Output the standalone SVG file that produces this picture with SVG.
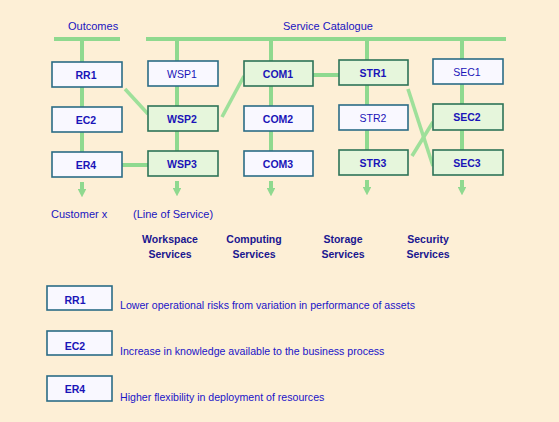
<svg xmlns="http://www.w3.org/2000/svg" width="559" height="422" viewBox="0 0 559 422">
<style>
.ln{stroke:#8fd98f;stroke-width:4;fill:none;stroke-linecap:butt}
.dg{stroke:#9ee09a;stroke-width:3.6;fill:none}
.ar{stroke:#8fd98f;stroke-width:4;fill:none}
.bw{fill:#f9f8ff;stroke:#2b6c86;stroke-width:1.6}
.bg{fill:#e6f6dc;stroke:#2d7458;stroke-width:1.6}
.lb{font-family:"Liberation Sans",Arial,sans-serif;font-size:10.5px;font-weight:bold;fill:#1a14b8;text-anchor:middle}
.lr{font-weight:normal}
.t{font-family:"Liberation Sans",Arial,sans-serif;font-size:11px;fill:#1a14c0}
.h{font-family:"Liberation Sans",Arial,sans-serif;font-size:10.5px;font-weight:bold;fill:#1a1690;text-anchor:middle}
.d{font-family:"Liberation Sans",Arial,sans-serif;font-size:10.6px;fill:#1a14c8}
</style>
<defs>
<marker id="ah" viewBox="0 0 10 10" refX="5" refY="5" markerWidth="2.2" markerHeight="2.2" orient="auto" markerUnits="strokeWidth">
<path d="M0,0 L10,5 L0,10 z" fill="#8fd98f"/>
</marker>
</defs>
<rect width="559" height="422" fill="#fdefd6"/>
<g id="connectors">
<line class="ln" x1="54" y1="39" x2="120" y2="39"/>
<line class="ln" x1="146" y1="39" x2="506" y2="39"/>
<line class="ln" x1="82" y1="39" x2="82" y2="152"/>
<line class="ln" x1="177" y1="39" x2="177" y2="151"/>
<line class="ln" x1="271" y1="39" x2="271" y2="151"/>
<line class="ln" x1="367" y1="39" x2="367" y2="150"/>
<line class="ln" x1="462" y1="39" x2="462" y2="150"/>
<line class="ar" x1="82" y1="182" x2="82" y2="193" marker-end="url(#ah)"/>
<line class="ar" x1="177" y1="181" x2="177" y2="192" marker-end="url(#ah)"/>
<line class="ar" x1="271" y1="181" x2="271" y2="192" marker-end="url(#ah)"/>
<line class="ar" x1="367" y1="180" x2="367" y2="191" marker-end="url(#ah)"/>
<line class="ar" x1="462" y1="180" x2="462" y2="191" marker-end="url(#ah)"/>
<line class="dg" x1="125" y1="89" x2="148" y2="114"/>
<line class="ln" x1="122" y1="165" x2="148" y2="165"/>
<line class="dg" x1="222" y1="117" x2="244" y2="76"/>
<line class="ln" x1="313" y1="75" x2="339" y2="75"/>
<line class="dg" x1="408" y1="89" x2="433" y2="166"/>
<line class="dg" x1="412" y1="156" x2="433" y2="122"/>
</g>
<g id="RR1"><rect class="bw" x="52" y="62" width="70" height="25"/><text class="lb" x="86" y="78.5">RR1</text></g>
<g id="EC2"><rect class="bw" x="52" y="107" width="70" height="25"/><text class="lb" x="86" y="123.5">EC2</text></g>
<g id="ER4"><rect class="bw" x="52" y="152" width="70" height="25"/><text class="lb" x="86" y="168.5">ER4</text></g>
<g id="WSP1"><rect class="bw" x="148" y="61" width="70" height="25"/><text class="lb lr" x="182" y="77.5">WSP1</text></g>
<g id="WSP2"><rect class="bg" x="148" y="106" width="70" height="25"/><text class="lb" x="182" y="122.5">WSP2</text></g>
<g id="WSP3"><rect class="bg" x="148" y="151" width="70" height="25"/><text class="lb" x="182" y="167.5">WSP3</text></g>
<g id="COM1"><rect class="bg" x="244" y="61" width="69" height="25"/><text class="lb" x="278" y="77.5">COM1</text></g>
<g id="COM2"><rect class="bw" x="244" y="106" width="69" height="25"/><text class="lb" x="278" y="122.5">COM2</text></g>
<g id="COM3"><rect class="bw" x="244" y="151" width="69" height="25"/><text class="lb" x="278" y="167.5">COM3</text></g>
<g id="STR1"><rect class="bg" x="339" y="60" width="69" height="25"/><text class="lb" x="373" y="76.5">STR1</text></g>
<g id="STR2"><rect class="bw" x="339" y="105" width="69" height="25"/><text class="lb lr" x="373" y="121.5">STR2</text></g>
<g id="STR3"><rect class="bg" x="339" y="150" width="69" height="25"/><text class="lb" x="373" y="166.5">STR3</text></g>
<g id="SEC1"><rect class="bw" x="433" y="59" width="70" height="25"/><text class="lb lr" x="467" y="75.5">SEC1</text></g>
<g id="SEC2"><rect class="bg" x="433" y="104" width="70" height="26"/><text class="lb" x="467" y="121">SEC2</text></g>
<g id="SEC3"><rect class="bg" x="433" y="150" width="70" height="25"/><text class="lb" x="467" y="166.5">SEC3</text></g>
<g id="titles">
<text class="t" x="68" y="30">Outcomes</text>
<text class="t" x="283" y="30">Service Catalogue</text>
<text class="t" x="51" y="218">Customer x</text>
<text class="t" x="133" y="218">(Line of Service)</text>
<text class="h" x="170" y="243">Workspace</text><text class="h" x="170" y="258">Services</text>
<text class="h" x="254" y="243">Computing</text><text class="h" x="254" y="258">Services</text>
<text class="h" x="343" y="243">Storage</text><text class="h" x="343" y="258">Services</text>
<text class="h" x="428" y="243">Security</text><text class="h" x="428" y="258">Services</text>
</g>
<g id="legend-RR1"><rect class="bw" x="47" y="286" width="65" height="24"/><text class="lb" x="75" y="304">RR1</text><text class="d" x="120" y="309">Lower operational risks from variation in performance of assets</text></g>
<g id="legend-EC2"><rect class="bw" x="47" y="331" width="65" height="24"/><text class="lb" x="75" y="349.5">EC2</text><text class="d" x="120" y="355">Increase in knowledge available to the business process</text></g>
<g id="legend-ER4"><rect class="bw" x="47" y="376" width="65" height="25"/><text class="lb" x="75" y="393">ER4</text><text class="d" x="120" y="401">Higher flexibility in deployment of resources</text></g>
</svg>
